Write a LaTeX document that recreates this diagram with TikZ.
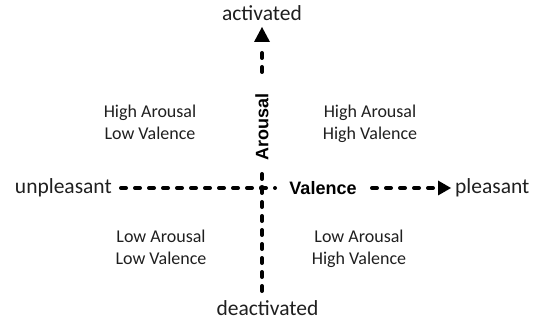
\documentclass[tikz,border=0pt]{standalone}
\usepackage{fontspec}
\setmainfont{Carlito}
\newfontfamily\axisfont{Liberation Sans}
\usetikzlibrary{arrows.meta,calc}
\definecolor{txt}{HTML}{1F1F1F}
\tikzset{
  axisline/.style={line width=4pt, line cap=round, dash pattern=on 5pt off 9pt, black},
  tiphead/.style={fill=black, draw=none},
  pole/.style={font=\fontsize{21.5}{24}\selectfont, text=txt, inner sep=0pt},
  quad/.style={font=\fontsize{18}{22}\selectfont, text=txt, align=center, inner sep=0pt, anchor=north},
  axname/.style={font=\axisfont\bfseries\fontsize{18}{20}\selectfont, text=black, inner sep=0pt},
}
\begin{document}
\begin{tikzpicture}[x=1pt,y=-1pt]
\useasboundingbox (0,0) rectangle (545,320);
% pole labels
\node[pole] (act) at (262,13) {activated};
\node[pole] (deact) at (267.5,308) {deactivated};
\node[pole,anchor=east] (unp) at (112,188) {unpleasant};
\node[pole,anchor=west] (ple) at (455,188) {pleasant};
% axis names
\node[axname,rotate=90] (aro) at (262,127) {Arousal};
\node[axname] (val) at (323,188) {Valence};
% quadrants
\node[quad] (hl) at (150,105.2) {High Arousal\\Low Valence};
\node[quad] (hh) at (370,105.2) {High Arousal\\High Valence};
\node[quad] (ll) at (161,230.2) {Low Arousal\\Low Valence};
\node[quad] (lh) at (359,230.2) {Low Arousal\\High Valence};
% coordinates
\coordinate (c) at (262,188);
\coordinate (vtop) at (262,72);
\coordinate (vtip) at (262,27);
\coordinate (vs) at (262,174);
\coordinate (vb) at (262,292);
\coordinate (hl0) at (121,188);
\coordinate (hr0) at (275,188);
\coordinate (h2a) at (372,188);
\coordinate (h2tip) at (451,188);
% axes
\draw[axisline] (vtop) -- ($(vtip)+(0,20)$);
\fill[tiphead] (vtip) -- ($(vtip)+(-8,15)$) -- ($(vtip)+(8,15)$) -- cycle;
\draw[axisline] (vs) -- (vb);
\draw[axisline] (hl0) -- (hr0);
\draw[axisline] (h2a) -- ($(h2tip)+(-17,0)$);
\fill[tiphead] (h2tip) -- ($(h2tip)+(-13,-7.5)$) -- ($(h2tip)+(-13,7.5)$) -- cycle;
\fill (c) circle (3pt);
\end{tikzpicture}
\end{document}
